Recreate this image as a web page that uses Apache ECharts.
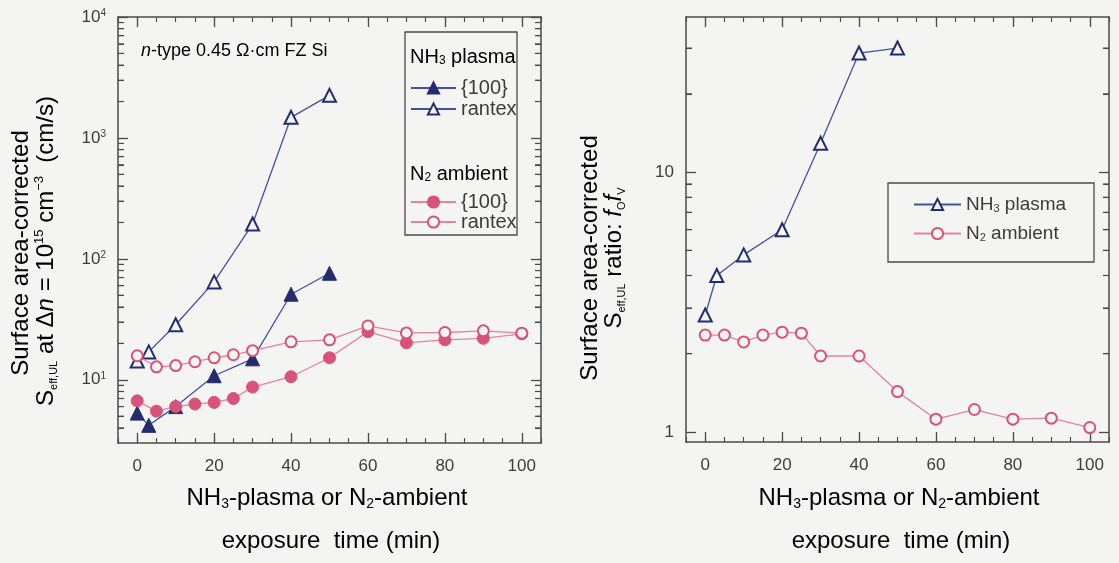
<!DOCTYPE html>
<html>
<head>
<meta charset="utf-8">
<script src="https://cdn.jsdelivr.net/npm/echarts@6/dist/echarts.min.js"></script>
<style>
  html, body { margin: 0; padding: 0; background: #f4f4f2; }
  #chart { width: 1119px; height: 563px; }
</style>
</head>
<body>
<div id="chart"></div>
<script>
// Exposure times (min)
const timeNH3 = [0, 3, 10, 20, 30, 40, 50];
const timeN2 = [0, 5, 10, 15, 20, 25, 30, 40, 50, 60, 70, 80, 90, 100];

// Left panel: S_eff,UL at Δn = 1e15 cm^-3 (cm/s)
const nh3Flat = [5.3, 4.2, 6.0, 10.8, 14.9, 51, 76];
const nh3Rantex = [14.3, 17, 28.5, 64.5, 194, 1480, 2250];
const n2Flat = [6.7, 5.5, 6.0, 6.3, 6.5, 7.0, 8.7, 10.6, 15.2, 25, 20.2, 21.4, 22, 24];
const n2Rantex = [15.8, 12.8, 13.1, 14.1, 15.2, 16.1, 17.4, 20.6, 21.4, 27.9, 24.4, 24.6, 25.4, 24.3];

// Right panel: rantex / {100} ratio
const nh3Ratio = [2.82, 4.0, 4.8, 6.0, 12.9, 28.7, 30];
const n2Ratio = [2.36, 2.36, 2.22, 2.36, 2.42, 2.40, 1.96, 1.96, 1.43, 1.12, 1.22, 1.12, 1.13, 1.04];

// Tick values
const xTickValues = [0, 20, 40, 60, 80, 100];
const leftMajorTicks = [10, 100, 1000, 10000];
const leftMinorTicks = [4, 5, 6, 7, 8, 9, 20, 30, 40, 50, 60, 70, 80, 90,
  200, 300, 400, 500, 600, 700, 800, 900, 2000, 3000, 4000, 5000, 6000, 7000, 8000, 9000];
const rightMajorTicks = [1, 10];
const rightMinorTicks = [2, 3, 4, 5, 6, 7, 8, 9, 20, 30];

// Axis ranges
const xRange = [-5, 105];
const leftYRange = [3, 10000];
const rightYRange = [0.915, 39.5];

const BG = '#f4f4f2';
const AXIS = '#4a4a4a';
const TEXT = '#3c3c3c';
const NAVY = '#232c6e';
const NAVY_LINE = '#4650a0';
const PINK = '#d8527b';
const PINK_LINE = '#e3849f';
const FONT = "'Liberation Sans', Arial, Helvetica, sans-serif";

const zip = (xs, ys) => xs.map((x, i) => [x, ys[i]]);

const chart = echarts.init(document.getElementById('chart'), null, { renderer: 'canvas' });

const supRich = {
  b: { fontSize: 17, color: TEXT, fontFamily: FONT },
  sup: { fontSize: 10, color: TEXT, fontFamily: FONT, verticalAlign: 'top', lineHeight: 10, padding: [0, 0, 6, 0] }
};

function logLabel(v) {
  const e = Math.round(Math.log10(v));
  if (Math.abs(Math.log10(v) - e) > 1e-6) return '';
  return '{b|10}{sup|' + e + '}';
}
function plainLogLabel(v) {
  const e = Math.round(Math.log10(v));
  if (Math.abs(Math.log10(v) - e) > 1e-6) return '';
  return String(Math.round(v));
}

const frameLine = { show: true, onZero: false, lineStyle: { color: AXIS, width: 1.5 } };
const noLine = { show: false, onZero: false };

// Four x axes per grid: framed bottom/top with 5-min ticks, plus long ticks every 20 min
function xAxesFor(gridIndex) {
  const base = { gridIndex, type: 'value', min: xRange[0], max: xRange[1], interval: 5, splitLine: { show: false } };
  const shortTick = { show: true, inside: true, length: 5, lineStyle: { color: AXIS, width: 1.1 } };
  const longTick = { show: true, inside: true, length: 10, lineStyle: { color: AXIS, width: 1.3 }, customValues: xTickValues };
  return [
    Object.assign({}, base, { position: 'bottom', axisLine: frameLine, axisTick: shortTick,
      axisLabel: { show: true, margin: 15, fontSize: 17, color: TEXT, fontFamily: FONT, customValues: xTickValues } }),
    Object.assign({}, base, { position: 'top', axisLine: frameLine, axisTick: shortTick, axisLabel: { show: false } }),
    Object.assign({}, base, { position: 'bottom', axisLine: noLine, axisTick: longTick, axisLabel: { show: false } }),
    Object.assign({}, base, { position: 'top', axisLine: noLine, axisTick: longTick, axisLabel: { show: false } })
  ];
}

// Four log y axes per grid: framed left/right with decade-minor ticks, plus long decade ticks
function yAxesFor(gridIndex, range, formatter, majors, minors) {
  const base = { gridIndex, type: 'log', logBase: 10, min: range[0], max: range[1], splitLine: { show: false } };
  const shortTick = { show: true, inside: true, length: 6, lineStyle: { color: AXIS, width: 1.1 }, customValues: minors };
  const longTick = { show: true, inside: true, length: 10, lineStyle: { color: AXIS, width: 1.3 }, customValues: majors };
  return [
    Object.assign({}, base, { position: 'left', axisLine: frameLine, axisTick: shortTick,
      axisLabel: { show: true, margin: 12, customValues: majors, formatter, rich: supRich,
        fontSize: 17, color: TEXT, fontFamily: FONT } }),
    Object.assign({}, base, { position: 'right', axisLine: frameLine, axisTick: shortTick, axisLabel: { show: false } }),
    Object.assign({}, base, { position: 'left', axisLine: noLine, axisTick: longTick, axisLabel: { show: false } }),
    Object.assign({}, base, { position: 'right', axisLine: noLine, axisTick: longTick, axisLabel: { show: false } })
  ];
}

function lineSeries(name, axisIndex, data, opts) {
  return {
    name, type: 'line', xAxisIndex: axisIndex, yAxisIndex: axisIndex, data,
    symbol: opts.symbol, symbolSize: opts.size,
    showAllSymbol: true,
    lineStyle: { color: opts.line, width: 1.3 },
    itemStyle: opts.filled
      ? { color: opts.color, borderColor: opts.color, borderWidth: 1 }
      : { color: BG, borderColor: opts.color, borderWidth: 2 },
    emphasis: { disabled: true },
    z: opts.z || 2
  };
}

function richFor(size, subSize) {
  return {
    t: { fontSize: size, color: TEXT, fontFamily: FONT },
    sub: { fontSize: subSize, color: TEXT, fontFamily: FONT, verticalAlign: 'bottom', lineHeight: subSize, padding: [Math.round(size * 0.35), 0, 0, 0] }
  };
}
const legendRichL = richFor(20, 12);
const legendRichR = richFor(19, 11);

const titleRich = {
  t: { fontSize: 24, color: TEXT, fontFamily: FONT, lineHeight: 26 },
  i: { fontSize: 24, fontStyle: 'italic', color: TEXT, fontFamily: FONT, lineHeight: 26 },
  sub: { fontSize: 11, color: TEXT, fontFamily: FONT, verticalAlign: 'bottom', lineHeight: 11, padding: [6, 0, 0, 0] },
  sup: { fontSize: 13, color: TEXT, fontFamily: FONT, verticalAlign: 'top', lineHeight: 13, padding: [0, 0, 6, 0] }
};
const xTitleRich = {
  t: { fontSize: 24, color: TEXT, fontFamily: FONT, lineHeight: 26 },
  sub: { fontSize: 14, color: TEXT, fontFamily: FONT, verticalAlign: 'bottom', lineHeight: 14, padding: [4, 0, 0, 0] }
};

const baseGraphics = [
  // legend frames
  { type: 'rect', shape: { x: 405, y: 32, width: 112, height: 203 }, style: { fill: BG, stroke: AXIS, lineWidth: 1.3 }, z: 0 },
  { type: 'rect', shape: { x: 888, y: 183, width: 206, height: 79 }, style: { fill: BG, stroke: AXIS, lineWidth: 1.3 }, z: 0 },
  // legend group headings
  { type: 'text', x: 410, y: 57, z: 5, style: { text: '{t|NH}{sub|3}{t| plasma}', rich: legendRichL, verticalAlign: 'middle', align: 'left' } },
  { type: 'text', x: 410, y: 174, z: 5, style: { text: '{t|N}{sub|2}{t| ambient}', rich: legendRichL, verticalAlign: 'middle', align: 'left' } },
  // sample note
  { type: 'text', x: 141, y: 51, z: 5, style: {
    text: '{i|n}{t|-type 0.45 Ω·cm FZ Si}', verticalAlign: 'middle', align: 'left',
    rich: { i: { fontSize: 18, fontStyle: 'italic', color: TEXT, fontFamily: FONT }, t: { fontSize: 18, color: TEXT, fontFamily: FONT } } } },
  // y-axis titles (two rotated lines each)
  { type: 'text', x: 21, y: 253, rotation: Math.PI / 2, z: 5, style: {
    text: '{t|Surface area-corrected}', align: 'center', verticalAlign: 'middle', rich: titleRich } },
  { type: 'text', x: 46, y: 251, rotation: Math.PI / 2, z: 5, style: {
    text: '{t|S}{sub|eff,UL}{t| at Δ}{i|n}{t| = 10}{sup|15}{t| cm}{sup|−3}{t|  (cm/s)}',
    align: 'center', verticalAlign: 'middle', rich: titleRich } },
  { type: 'text', x: 590, y: 258, rotation: Math.PI / 2, z: 5, style: {
    text: '{t|Surface area-corrected}', align: 'center', verticalAlign: 'middle', rich: titleRich } },
  { type: 'text', x: 614, y: 258, rotation: Math.PI / 2, z: 5, style: {
    text: '{t|S}{sub|eff,UL}{t| ratio: }{i|f}{sub|O}{i|f}{sub|V}',
    align: 'center', verticalAlign: 'middle', rich: titleRich } },
  // x-axis titles
  { type: 'text', x: 327, y: 498, z: 5, style: {
    text: '{t|NH}{sub|3}{t|-plasma or N}{sub|2}{t|-ambient}', align: 'center', verticalAlign: 'middle', rich: xTitleRich } },
  { type: 'text', x: 331, y: 541, z: 5, style: {
    text: '{t|exposure  time (min)}', align: 'center', verticalAlign: 'middle', rich: xTitleRich } },
  { type: 'text', x: 899, y: 498, z: 5, style: {
    text: '{t|NH}{sub|3}{t|-plasma or N}{sub|2}{t|-ambient}', align: 'center', verticalAlign: 'middle', rich: xTitleRich } },
  { type: 'text', x: 901, y: 541, z: 5, style: {
    text: '{t|exposure  time (min)}', align: 'center', verticalAlign: 'middle', rich: xTitleRich } }
];

const option = {
  backgroundColor: BG,
  animation: false,
  grid: [
    { left: 118, top: 17, width: 423, height: 426, containLabel: false },
    { left: 686, top: 17, width: 423, height: 425, containLabel: false }
  ],
  xAxis: [...xAxesFor(0), ...xAxesFor(1)],
  yAxis: [
    ...yAxesFor(0, leftYRange, logLabel, leftMajorTicks, leftMinorTicks),
    ...yAxesFor(1, rightYRange, plainLogLabel, rightMajorTicks, rightMinorTicks)
  ],
  legend: [
    {
      data: ['NH₃ plasma {100}', 'NH₃ plasma rantex'],
      orient: 'vertical', left: 410, top: 78, padding: 0, itemGap: 1,
      itemWidth: 45, itemHeight: 14, selectedMode: false,
      formatter: n => n.replace('NH₃ plasma ', ''),
      textStyle: { fontSize: 20, color: TEXT, fontFamily: FONT }
    },
    {
      data: ['N₂ ambient {100}', 'N₂ ambient rantex'],
      orient: 'vertical', left: 410, top: 192, padding: 0, itemGap: 0,
      itemWidth: 45, itemHeight: 14, selectedMode: false,
      formatter: n => n.replace('N₂ ambient ', ''),
      textStyle: { fontSize: 20, color: TEXT, fontFamily: FONT }
    },
    {
      data: ['NH₃ plasma', 'N₂ ambient'],
      orient: 'vertical', left: 913, top: 195, padding: 0, itemGap: 10,
      itemWidth: 47, itemHeight: 14, selectedMode: false,
      formatter: n => n === 'NH₃ plasma' ? '{t|NH}{sub|3}{t| plasma}' : '{t|N}{sub|2}{t| ambient}',
      textStyle: { fontSize: 19, color: TEXT, fontFamily: FONT, rich: legendRichR }
    }
  ],
  series: [
    lineSeries('NH₃ plasma rantex', 0, zip(timeNH3, nh3Rantex), { symbol: 'triangle', size: 13, color: NAVY, line: NAVY_LINE, filled: false }),
    lineSeries('NH₃ plasma {100}', 0, zip(timeNH3, nh3Flat), { symbol: 'triangle', size: 14, color: NAVY, line: NAVY_LINE, filled: true }),
    lineSeries('N₂ ambient {100}', 0, zip(timeN2, n2Flat), { symbol: 'circle', size: 12, color: PINK, line: PINK_LINE, filled: true, z: 3 }),
    lineSeries('N₂ ambient rantex', 0, zip(timeN2, n2Rantex), { symbol: 'circle', size: 11, color: PINK, line: PINK_LINE, filled: false, z: 3 }),
    lineSeries('NH₃ plasma', 4, zip(timeNH3, nh3Ratio), { symbol: 'triangle', size: 13, color: NAVY, line: NAVY_LINE, filled: false }),
    lineSeries('N₂ ambient', 4, zip(timeN2, n2Ratio), { symbol: 'circle', size: 11, color: PINK, line: PINK_LINE, filled: false })
  ],
  graphic: baseGraphics
};

try { chart.setOption(option); } catch (e) { /* keep going so the edge ticks below still draw */ }

// Decade minor ticks on both vertical frame edges, placed with the axis scales
function minorTickLines(axisIndex, values) {
  const finder = { xAxisIndex: axisIndex, yAxisIndex: axisIndex };
  const els = [];
  values.forEach(v => {
    const left = chart.convertToPixel(finder, [xRange[0], v]);
    const right = chart.convertToPixel(finder, [xRange[1], v]);
    if (!left || !right) return;
    const st = { stroke: AXIS, lineWidth: 1.1 };
    els.push({ type: 'line', z: 50, silent: true, shape: { x1: left[0], y1: left[1], x2: left[0] + 6, y2: left[1] }, style: st });
    els.push({ type: 'line', z: 50, silent: true, shape: { x1: right[0] - 6, y1: right[1], x2: right[0], y2: right[1] }, style: st });
  });
  return els;
}

try {
  chart.setOption({
    graphic: baseGraphics.concat(minorTickLines(0, leftMinorTicks), minorTickLines(4, rightMinorTicks))
  });
} catch (e) { /* axis ticks above already cover the frame edges */ }
</script>
</body>
</html>
